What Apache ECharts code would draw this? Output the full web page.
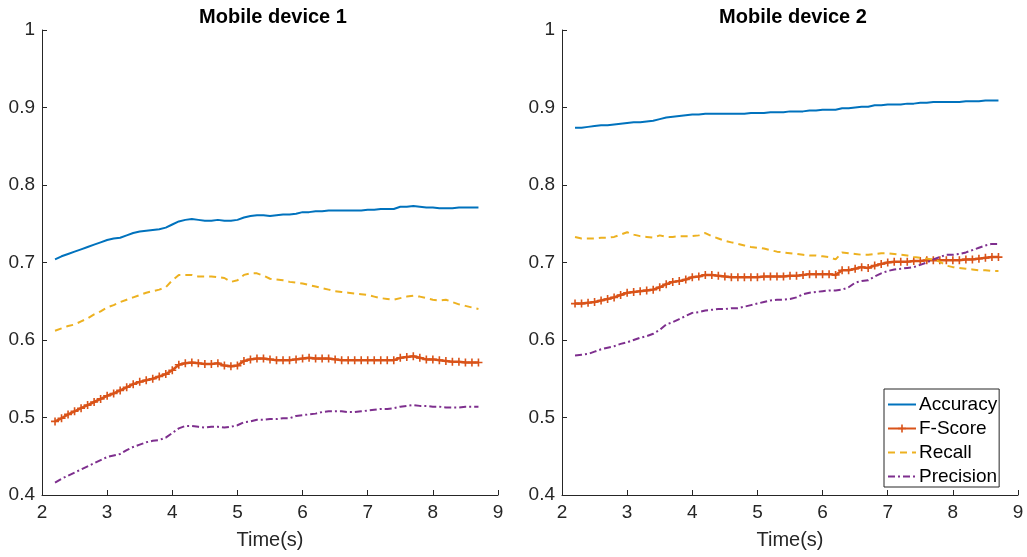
<!DOCTYPE html>
<html>
<head>
<meta charset="utf-8">
<script src="https://cdn.jsdelivr.net/npm/echarts@6/dist/echarts.min.js"></script>
<style>
html,body{margin:0;padding:0;background:#fff;}
#chart{width:1027px;height:557px;}
</style>
</head>
<body>
<div id="chart"></div>
<script>
// ---- data ----
const titles = ['Mobile device 1', 'Mobile device 2'];
const seriesNames = ['Accuracy', 'F-Score', 'Recall', 'Precision'];
const xTicks = [2, 3, 4, 5, 6, 7, 8, 9];
const yTicks = [0.4, 0.5, 0.6, 0.7, 0.8, 0.9, 1];
const time = [2.2,2.3,2.4,2.5,2.6,2.7,2.8,2.9,3.0,3.1,3.2,3.3,3.4,3.5,3.6,3.7,3.8,3.9,4.0,4.1,4.2,4.3,4.4,4.5,4.6,4.7,4.8,4.9,5.0,5.1,5.2,5.3,5.4,5.5,5.6,5.7,5.8,5.9,6.0,6.1,6.2,6.3,6.4,6.5,6.6,6.7,6.8,6.9,7.0,7.1,7.2,7.3,7.4,7.5,7.6,7.7,7.8,7.9,8.0,8.1,8.2,8.3,8.4,8.5,8.6,8.7];

// Mobile device 1
const acc1 = [0.704,0.708,0.711,0.714,0.717,0.720,0.723,0.726,0.729,0.731,0.732,0.735,0.738,0.740,0.741,0.742,0.743,0.745,0.749,0.753,0.755,0.756,0.755,0.754,0.754,0.755,0.754,0.754,0.755,0.758,0.760,0.761,0.761,0.760,0.761,0.762,0.762,0.763,0.765,0.765,0.766,0.766,0.767,0.767,0.767,0.767,0.767,0.767,0.768,0.768,0.769,0.769,0.769,0.772,0.772,0.773,0.772,0.771,0.771,0.770,0.770,0.770,0.771,0.771,0.771,0.771];
const fs1 = [0.495,0.499,0.504,0.508,0.512,0.516,0.520,0.524,0.528,0.531,0.535,0.539,0.543,0.546,0.548,0.550,0.553,0.556,0.561,0.568,0.570,0.571,0.570,0.569,0.569,0.570,0.567,0.566,0.567,0.573,0.575,0.576,0.576,0.575,0.574,0.574,0.574,0.575,0.576,0.577,0.576,0.576,0.576,0.575,0.574,0.574,0.574,0.574,0.574,0.574,0.574,0.574,0.574,0.577,0.578,0.579,0.577,0.575,0.575,0.574,0.573,0.572,0.572,0.571,0.571,0.571];
const rec1 = [0.612,0.615,0.618,0.620,0.624,0.628,0.633,0.637,0.642,0.645,0.649,0.652,0.655,0.658,0.661,0.663,0.665,0.668,0.677,0.684,0.684,0.684,0.682,0.682,0.682,0.681,0.680,0.675,0.677,0.684,0.686,0.686,0.683,0.679,0.678,0.677,0.675,0.674,0.673,0.671,0.669,0.667,0.665,0.663,0.662,0.661,0.660,0.659,0.658,0.656,0.654,0.653,0.652,0.654,0.656,0.657,0.656,0.654,0.652,0.651,0.652,0.649,0.646,0.644,0.642,0.640];
const pre1 = [0.416,0.421,0.425,0.429,0.433,0.437,0.441,0.445,0.449,0.451,0.453,0.458,0.462,0.465,0.468,0.470,0.471,0.474,0.480,0.486,0.489,0.489,0.488,0.487,0.488,0.488,0.487,0.488,0.490,0.494,0.495,0.497,0.497,0.498,0.498,0.499,0.499,0.502,0.503,0.504,0.505,0.507,0.508,0.508,0.508,0.507,0.507,0.508,0.509,0.510,0.511,0.511,0.512,0.514,0.515,0.516,0.515,0.515,0.514,0.514,0.513,0.513,0.513,0.514,0.514,0.514];

// Mobile device 2
const acc2 = [0.874,0.874,0.875,0.876,0.877,0.877,0.878,0.879,0.880,0.881,0.881,0.882,0.883,0.885,0.887,0.888,0.889,0.890,0.891,0.891,0.892,0.892,0.892,0.892,0.892,0.892,0.892,0.893,0.893,0.893,0.894,0.894,0.894,0.895,0.895,0.895,0.896,0.896,0.897,0.897,0.897,0.899,0.899,0.900,0.901,0.901,0.903,0.903,0.904,0.904,0.904,0.905,0.905,0.906,0.906,0.907,0.907,0.907,0.907,0.907,0.908,0.908,0.908,0.909,0.909,0.909];
const fs2 = [0.647,0.647,0.648,0.649,0.651,0.653,0.655,0.658,0.661,0.662,0.663,0.664,0.665,0.668,0.672,0.675,0.676,0.678,0.681,0.682,0.684,0.684,0.683,0.682,0.681,0.681,0.681,0.681,0.681,0.682,0.682,0.682,0.682,0.683,0.683,0.684,0.685,0.685,0.685,0.685,0.684,0.690,0.690,0.692,0.694,0.693,0.696,0.698,0.700,0.701,0.701,0.701,0.702,0.702,0.703,0.703,0.703,0.703,0.703,0.703,0.704,0.704,0.705,0.706,0.707,0.707];
const rec2 = [0.733,0.731,0.731,0.731,0.732,0.732,0.733,0.736,0.739,0.736,0.734,0.733,0.732,0.735,0.733,0.733,0.734,0.734,0.734,0.735,0.738,0.734,0.731,0.728,0.726,0.724,0.722,0.720,0.719,0.718,0.716,0.714,0.713,0.712,0.711,0.710,0.709,0.709,0.708,0.707,0.704,0.713,0.712,0.711,0.710,0.710,0.711,0.712,0.712,0.711,0.710,0.709,0.707,0.706,0.705,0.704,0.701,0.696,0.694,0.693,0.692,0.691,0.690,0.690,0.689,0.689];
const pre2 = [0.580,0.581,0.582,0.585,0.588,0.590,0.592,0.595,0.597,0.600,0.603,0.605,0.608,0.613,0.620,0.623,0.627,0.631,0.635,0.636,0.638,0.639,0.640,0.640,0.641,0.641,0.643,0.645,0.647,0.649,0.651,0.652,0.652,0.653,0.655,0.659,0.661,0.662,0.663,0.664,0.664,0.665,0.668,0.674,0.676,0.677,0.682,0.686,0.689,0.691,0.692,0.693,0.694,0.697,0.700,0.704,0.707,0.710,0.710,0.711,0.713,0.716,0.719,0.722,0.724,0.724];

// ---- styles ----
const colors = ['#0072BD', '#D95319', '#EDB120', '#7E2F8E'];
const axisColor = '#262626';
const font = "'Liberation Sans', Arial, Helvetica, sans-serif";
const plusPath = 'path://M4,0H6V4H10V6H6V10H4V6H0V4H4Z';

function pairs(xs, ys) { return xs.map((x, i) => [x, ys[i]]); }

const panels = [[acc1, fs1, rec1, pre1], [acc2, fs2, rec2, pre2]];
const grids = [
  { left: 42, width: 456, top: 30, bottom: 62 },
  { left: 562, width: 456, top: 30, bottom: 62 }
];
const lineStyles = [
  { type: 'solid', width: 2 },
  { type: 'solid', width: 2.5 },
  { type: [7, 5], width: 2 },
  { type: [7, 3, 2, 3], width: 2 }
];

const xAxes = [], yAxes = [], series = [];
grids.forEach((g, gi) => {
  xAxes.push({
    gridIndex: gi, type: 'value', min: xTicks[0], max: xTicks[xTicks.length - 1], interval: 1,
    name: 'Time(s)', nameLocation: 'middle', nameGap: 35,
    nameTextStyle: { fontFamily: font, fontSize: 20, color: axisColor },
    axisLine: { show: true, lineStyle: { color: axisColor, width: 1 } },
    axisTick: { show: true, inside: true, length: 5, lineStyle: { color: axisColor } },
    axisLabel: { fontFamily: font, fontSize: 19, color: axisColor, margin: 8 },
    splitLine: { show: false }
  });
  yAxes.push({
    gridIndex: gi, type: 'value', min: yTicks[0], max: yTicks[yTicks.length - 1], interval: 0.1,
    axisLine: { show: true, onZero: false, lineStyle: { color: axisColor, width: 1 } },
    axisTick: { show: true, inside: true, length: 5, lineStyle: { color: axisColor } },
    axisLabel: { fontFamily: font, fontSize: 19, color: axisColor, margin: 7,
      formatter: v => (Math.abs(v - 1) < 1e-9 ? '1' : v.toFixed(1)) },
    splitLine: { show: false }
  });
  const vals = panels[gi];
  seriesNames.forEach((nm, si) => {
    const s = {
      name: nm, type: 'line', xAxisIndex: gi, yAxisIndex: gi,
      data: pairs(time, vals[si]),
      lineStyle: Object.assign({ color: colors[si] }, lineStyles[si]),
      itemStyle: { color: colors[si] },
      showSymbol: false, symbol: 'circle', animation: false, z: 2 + si
    };
    if (si === 1) {
      s.showSymbol = true;
      s.symbol = plusPath;
      s.symbolSize = 8;
      s.z = 3;
    }
    series.push(s);
  });
});

const chart = echarts.init(document.getElementById('chart'), null, { renderer: 'canvas' });
chart.setOption({
  backgroundColor: '#ffffff',
  animation: false,
  title: titles.map((t, i) => ({
    text: t, left: grids[i].left + grids[i].width / 2 - 2, top: 2, textAlign: 'center',
    textStyle: { fontFamily: font, fontSize: 20, fontWeight: 'bold', color: '#000' }
  })),
  grid: grids,
  xAxis: xAxes,
  yAxis: yAxes,
  legend: {
    orient: 'vertical', left: 884, top: 389,
    data: seriesNames.map((nm, si) => ({
      name: nm,
      itemStyle: si === 1 ? { color: colors[si] } : { opacity: 0 },
      lineStyle: { width: 2 }
    })),
    backgroundColor: '#fff',
    borderColor: axisColor, borderWidth: 1,
    padding: [6, 2, 1, 3],
    itemGap: 5, itemWidth: 28, itemHeight: 10,
    textStyle: { fontFamily: font, fontSize: 19, color: '#000', padding: [0, 0, 0, -2] }
  },
  series: series
});
</script>
</body>
</html>
